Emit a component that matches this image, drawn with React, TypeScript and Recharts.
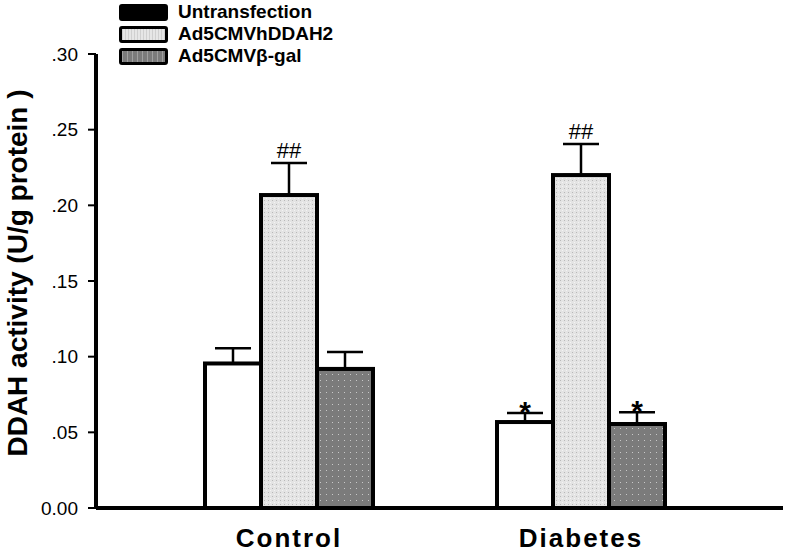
import React from 'react';
import { BarChart, Bar, XAxis, YAxis, ErrorBar, LabelList, Legend } from 'recharts';

const categories = ['Control', 'Diabetes'];
const untransfection = [0.0955, 0.0568];
const untransfectionErr = [0.0100, 0.0060];
const untransfectionMarks = ['', '*'];
const hDDAH2 = [0.2068, 0.2200];
const hDDAH2Err = [0.0212, 0.0205];
const hDDAH2Marks = ['##', '##'];
const betaGal = [0.0919, 0.0555];
const betaGalErr = [0.0112, 0.0078];
const betaGalMarks = ['', '*'];
const yTicks = [0, 0.05, 0.1, 0.15, 0.2, 0.25, 0.3];
const yLabels = ['0.00', '.05', '.10', '.15', '.20', '.25', '.30'];

const seriesNames = ['Untransfection', 'Ad5CMVhDDAH2', 'Ad5CMV\u03B2-gal'];

const data = categories.map((name, i) => ({
  name,
  unt: untransfection[i],
  untErr: [0, untransfectionErr[i]],
  untMark: untransfectionMarks[i],
  hd: hDDAH2[i],
  hdErr: [0, hDDAH2Err[i]],
  hdMark: hDDAH2Marks[i],
  bg: betaGal[i],
  bgErr: [0, betaGalErr[i]],
  bgMark: betaGalMarks[i],
}));

const FONT = '"Liberation Sans", Arial, Helvetica, sans-serif';

const PatternRect = (props: any) => {
  const { x, y, width, height, index, kind } = props;
  if (height == null || width == null) return null;
  const id = `pat-${kind}-${index}`;
  let fill = '#ffffff';
  let defs = null;
  if (kind === 'light') {
    defs = (
      <defs>
        <pattern id={id} width={4} height={4} patternUnits="userSpaceOnUse">
          <rect width={4} height={4} fill="#e4e4e4" />
          <rect width={1} height={1} fill="#b8b8b8" />
          <rect x={2} y={2} width={1} height={1} fill="#f4f4f4" />
        </pattern>
      </defs>
    );
    fill = `url(#${id})`;
  } else if (kind === 'dark') {
    defs = (
      <defs>
        <pattern id={id} width={6} height={6} patternUnits="userSpaceOnUse">
          <rect width={6} height={6} fill="#7b7b7b" />
          <rect x={2} y={2} width={1} height={1} fill="#c8c8c8" />
        </pattern>
      </defs>
    );
    fill = `url(#${id})`;
  }
  return (
    <g>
      {defs}
      <rect x={x} y={y} width={width} height={height} fill={fill} stroke="#000" strokeWidth={4} />
    </g>
  );
};

const makeMark = (values: number[], errs: number[]) => (props: any) => {
  const { x, y, width, height, value, index } = props;
  if (!value) return null;
  const pxPerUnit = Number(height) / values[index];
  const capY = Number(y) - errs[index] * pxPerUnit;
  const cx = Number(x) + Number(width) / 2;
  if (value === '*') {
    return (
      <text x={cx} y={capY + 9} textAnchor="middle" fontFamily={FONT} fontWeight="bold" fontSize={30} fill="#000">
        {value}
      </text>
    );
  }
  return (
    <text x={cx} y={capY - 5} textAnchor="middle" fontFamily={FONT} fontSize={22} fill="#000">
      {value}
    </text>
  );
};

const CatTick = (props: any) => {
  const { x, y, payload } = props;
  return (
    <text x={x} y={y + 31} textAnchor="middle" fontFamily={FONT} fontWeight="bold" fontSize={26} letterSpacing={2} fill="#000">
      {payload.value}
    </text>
  );
};

const legendBoxes = [
  { bg: '#000000' },
  { bg: 'repeating-linear-gradient(90deg, #d0d0d0 0 1px, #e6e6e6 1px 3px)' },
  { bg: 'repeating-linear-gradient(90deg, #a0a0a0 0 1px, #7b7b7b 1px 5px)' },
];

const LegendContent = () => (
  <div style={{ fontFamily: FONT }}>
    {seriesNames.map((n, i) => (
      <div key={n} style={{ display: 'flex', alignItems: 'center', height: 22 }}>
        <div
          style={{
            width: 43,
            height: 11,
            border: '3px solid #000',
            borderRadius: 3,
            background: legendBoxes[i].bg,
            marginRight: 10,
          }}
        />
        <span style={{ fontSize: 19, fontWeight: 'bold', color: '#000' }}>{n}</span>
      </div>
    ))}
  </div>
);

const YLabel = (props: any) => {
  const vb = props.viewBox || { x: 0, y: 54, width: 96, height: 454 };
  const cx = vb.x + 27;
  const cy = vb.y + vb.height / 2 - 8;
  return (
    <text
      transform={`translate(${cx}, ${cy}) rotate(-90)`}
      textAnchor="middle"
      fontFamily={FONT}
      fontWeight="bold"
      fontSize={28}
      fill="#000"
    >
      DDAH activity (U/g protein )
    </text>
  );
};

export default function App() {
  return (
    <div style={{ position: 'absolute', left: 0, top: 0, width: 787, height: 553, background: '#fff' }}>
      <BarChart
        width={787}
        height={553}
        data={data}
        margin={{ top: 54, right: 4, bottom: 0, left: 0 }}
        barGap={0}
        barSize={56}
      >
        <XAxis
          dataKey="name"
          height={45}
          padding={{ left: 47, right: 56 }}
          axisLine={{ stroke: '#000', strokeWidth: 4 }}
          tickLine={false}
          tick={<CatTick />}
          interval={0}
        />
        <YAxis
          width={96}
          domain={[0, 0.3]}
          ticks={yTicks}
          interval={0}
          tickFormatter={(v: number) => yLabels[yTicks.indexOf(v)] ?? String(v)}
          axisLine={{ stroke: '#000', strokeWidth: 4 }}
          tickLine={{ stroke: '#000', strokeWidth: 2 }}
          tickSize={8}
          tickMargin={10}
          tick={{ fontFamily: FONT, fontSize: 19, fill: '#000' }}
          label={{ content: (p: any) => <YLabel {...p} /> }}
        />
        <Legend
          layout="horizontal"
          align="center"
          verticalAlign="middle"
          content={() => <LegendContent />}
          wrapperStyle={{ position: 'absolute', top: 1, left: 119, width: 'auto' }}
        />
        <Bar dataKey="unt" name={seriesNames[0]} fill="#fff" isAnimationActive={false} shape={(p: any) => <PatternRect {...p} kind="white" />}>
          <ErrorBar dataKey="untErr" direction="y" width={18} stroke="#000" strokeWidth={2.5} isAnimationActive={false} />
          <LabelList dataKey="untMark" content={makeMark(untransfection, untransfectionErr)} />
        </Bar>
        <Bar dataKey="hd" name={seriesNames[1]} fill="#e4e4e4" isAnimationActive={false} shape={(p: any) => <PatternRect {...p} kind="light" />}>
          <ErrorBar dataKey="hdErr" direction="y" width={18} stroke="#000" strokeWidth={2.5} isAnimationActive={false} />
          <LabelList dataKey="hdMark" content={makeMark(hDDAH2, hDDAH2Err)} />
        </Bar>
        <Bar dataKey="bg" name={seriesNames[2]} fill="#7b7b7b" isAnimationActive={false} shape={(p: any) => <PatternRect {...p} kind="dark" />}>
          <ErrorBar dataKey="bgErr" direction="y" width={18} stroke="#000" strokeWidth={2.5} isAnimationActive={false} />
          <LabelList dataKey="bgMark" content={makeMark(betaGal, betaGalErr)} />
        </Bar>
      </BarChart>
    </div>
  );
}
